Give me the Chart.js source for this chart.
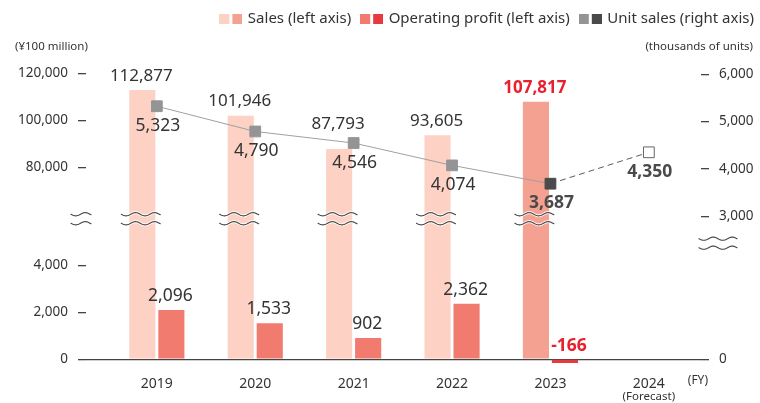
<!DOCTYPE html>
<html>
<head>
<meta charset="utf-8">
<script src="https://cdn.jsdelivr.net/npm/chart.js@4/dist/chart.umd.min.js"></script>
<style>
  html, body { margin: 0; padding: 0; background: #fff; }
  #wrap { width: 760px; height: 403px; }
</style>
</head>
<body>
<div id="wrap"><canvas id="c" width="760" height="403"></canvas></div>
<script>
// ---------- data ----------
const years = [2019, 2020, 2021, 2022, 2023, 2024];
const sales = [112877, 101946, 87793, 93605, 107817, null];
const operatingProfit = [2096, 1533, 902, 2362, -166, null];
const unitSales = [5323, 4790, 4546, 4074, 3687, 4350];
const leftTicks = [0, 2000, 4000, 80000, 100000, 120000];
const rightTicks = [0, 3000, 4000, 5000, 6000];
const forecastYear = 2024;
const highlightYear = 2023;

const FONT = "'Noto Sans', sans-serif";
const TXT = '#333333';
const fmt = v => Number(v).toLocaleString('en-US');

// ---------- broken linear scale ----------
class BrokenLinearScale extends Chart.LinearScale {
  buildTicks() { return (this.options.tickValues || []).map(v => ({ value: v })); }
  _virt(v) {
    const k = this.options.knots;
    let i = 0;
    while (i < k.length - 2 && v > k[i + 1][0]) i++;
    const a = k[i], b = k[i + 1];
    return a[1] + (v - a[0]) * (b[1] - a[1]) / (b[0] - a[0]);
  }
  _unvirt(p) {
    const k = this.options.knots;
    let i = 0;
    while (i < k.length - 2 && p > k[i + 1][1]) i++;
    const a = k[i], b = k[i + 1];
    return a[0] + (p - a[1]) * (b[0] - a[0]) / (b[1] - a[1]);
  }
  getPixelForValue(v) { return this.bottom - this.options.zeroOffset - this._virt(v); }
  getValueForPixel(px) { return this._unvirt(this.bottom - this.options.zeroOffset - px); }
}
BrokenLinearScale.id = 'brokenLinear';
BrokenLinearScale.defaults = {};
Chart.register(BrokenLinearScale);

// ---------- legend swatches ----------
function swatch(c1, c2) {
  const cv = document.createElement('canvas');
  cv.width = 23; cv.height = 10;
  const g = cv.getContext('2d');
  g.fillStyle = c1; g.fillRect(0, 0, 10, 10);
  g.fillStyle = c2; g.fillRect(13, 0, 10, 10);
  return cv;
}
const C = {
  sales: '#fdd2c5', salesHi: '#f5a192',
  op: '#f27b70', opHi: '#e8393e',
  unit: '#949497', unitHi: '#4a4a4a',
  red: '#e8212f'
};
const legendItems = [
  { text: 'Sales (left axis)', pointStyle: swatch(C.sales, C.salesHi) },
  { text: 'Operating profit (left axis)', pointStyle: swatch(C.op, C.opHi) },
  { text: 'Unit sales (right axis)', pointStyle: swatch(C.unit, C.unitHi) }
];

// ---------- helpers ----------
function wave(ctx, x0, x1, y) {
  ctx.beginPath();
  for (let x = x0; x <= x1; x += 0.5) {
    const yy = y + 1.6 * Math.sin((x - x0) / 19 * 2 * Math.PI);
    if (x === x0) ctx.moveTo(x, yy); else ctx.lineTo(x, yy);
  }
  ctx.stroke();
}
function drawBreak(ctx, x0, x1, y) {
  ctx.save();
  ctx.lineCap = 'round';
  ctx.strokeStyle = 'rgba(255,255,255,0.9)';
  ctx.lineWidth = 3;
  wave(ctx, x0, x1, y - 4.5);
  wave(ctx, x0, x1, y + 4.5);
  ctx.strokeStyle = '#444';
  ctx.lineWidth = 1.1;
  wave(ctx, x0, x1, y - 4.5);
  wave(ctx, x0, x1, y + 4.5);
  ctx.restore();
}
function text(ctx, s, x, y, size, color, bold, align) {
  ctx.font = (bold ? 'bold ' : '') + size + 'px ' + FONT;
  ctx.fillStyle = color;
  ctx.textAlign = align || 'center';
  ctx.textBaseline = 'middle';
  ctx.fillText(s, x, y);
}

const extras = {
  id: 'extras',
  afterLayout(chart) {
    const l = chart.legend;
    if (l) { l.left += 10; l.right += 10; }
  },
  afterDatasetsDraw(chart) {
    const ctx = chart.ctx;
    const y = chart.scales.y, y2 = chart.scales.y2;
    const area = chart.chartArea;
    const salesMeta = chart.getDatasetMeta(1);
    const opMeta = chart.getDatasetMeta(2);
    const unitMeta = chart.getDatasetMeta(0);

    // axis breaks
    const bY = y.getPixelForValue(y.options.breakValue);
    salesMeta.data.forEach((el, i) => {
      if (sales[i] == null) return;
      drawBreak(ctx, el.x - el.width / 2 - 8, el.x + el.width / 2 + 5, bY);
    });
    drawBreak(ctx, area.left - 15, area.left + 5, bY);
    const bY2 = y2.getPixelForValue(y2.options.breakValue);
    drawBreak(ctx, area.right - 2, area.right + 36, bY2);

    // value labels (sales label kept clear of the unit-sales marker)
    salesMeta.data.forEach((el, i) => {
      if (sales[i] == null) return;
      const hi = years[i] === highlightYear;
      const marker = unitMeta.data[i];
      const ly = Math.min(el.y - 14, marker ? marker.y - 19 : Infinity);
      text(ctx, fmt(sales[i]), el.x - 1, ly, 17, hi ? C.red : TXT, hi, 'center');
    });
    const zero = y.getPixelForValue(0);
    opMeta.data.forEach((el, i) => {
      const v = operatingProfit[i];
      if (v == null) return;
      if (v < 0) text(ctx, fmt(v), el.x + 4, zero - 13, 17.5, C.red, true, 'center');
      else text(ctx, fmt(v), el.x - 1, el.y - 14, 17.5, TXT, false, 'center');
    });
    unitMeta.data.forEach((el, i) => {
      const bold = years[i] >= highlightYear;
      text(ctx, fmt(unitSales[i]), el.x + 1, el.y + 19.5, 17.5, bold ? '#4a4a4a' : TXT, bold, 'center');
    });
  },
  afterDraw(chart) {
    const ctx = chart.ctx;
    const x = chart.scales.x;
    const area = chart.chartArea;
    text(ctx, '(¥100 million)', 15, 47, 11.5, TXT, false, 'left');
    text(ctx, '(thousands of units)', 753, 47, 11.5, TXT, false, 'right');
    text(ctx, '(Forecast)', x.getPixelForValue(forecastYear), 397, 11.5, TXT, false, 'center');
    text(ctx, '(FY)', area.right + 7, 381, 12, TXT, false, 'right');
  }
};

const unitColors = years.map(yr => yr === forecastYear ? '#ffffff' : (yr === highlightYear ? C.unitHi : C.unit));
const unitBorders = years.map(yr => yr === forecastYear ? '#666666' : (yr === highlightYear ? C.unitHi : C.unit));

new Chart(document.getElementById('c'), {
  type: 'bar',
  data: {
    datasets: [
      {
        type: 'line',
        label: 'Unit sales (right axis)',
        data: unitSales.map((v, i) => ({ x: years[i], y: v })),
        yAxisID: 'y2',
        order: 0,
        borderColor: '#a0a0a0',
        borderWidth: 1,
        pointStyle: 'rect',
        pointRadius: 7.6,
        pointBorderWidth: 1,
        pointBackgroundColor: unitColors,
        pointBorderColor: unitBorders,
        segment: {
          borderDash: c => years[c.p1DataIndex] === forecastYear ? [6, 4] : undefined,
          borderColor: c => years[c.p1DataIndex] === forecastYear ? '#5a5a5a' : undefined
        }
      },
      {
        label: 'Sales (left axis)',
        data: sales.map((v, i) => ({ x: years[i], y: v })),
        yAxisID: 'y',
        order: 1,
        backgroundColor: years.map(yr => yr === highlightYear ? C.salesHi : C.sales),
        categoryPercentage: 0.59,
        barPercentage: 0.9
      },
      {
        label: 'Operating profit (left axis)',
        data: operatingProfit.map((v, i) => ({ x: years[i], y: v })),
        yAxisID: 'y',
        order: 1,
        backgroundColor: years.map(yr => yr === highlightYear ? C.opHi : C.op),
        categoryPercentage: 0.59,
        barPercentage: 0.9
      }
    ]
  },
  options: {
    responsive: false,
    animation: false,
    layout: { padding: { left: 16, right: 5, top: 0, bottom: 7 } },
    plugins: {
      tooltip: { enabled: false },
      legend: {
        position: 'top',
        align: 'end',
        labels: {
          usePointStyle: true,
          pointStyleWidth: 19,
          boxHeight: 10,
          padding: 11,
          color: TXT,
          font: { family: FONT, size: 15 },
          generateLabels: () => legendItems.map((it, i) => ({
            text: it.text, pointStyle: it.pointStyle, fillStyle: '#fff',
            strokeStyle: '#fff', lineWidth: 0, hidden: false, datasetIndex: i, fontColor: TXT
          }))
        }
      }
    },
    scales: {
      x: {
        type: 'linear',
        offset: false,
        min: 2018.28,
        max: 2024.53,
        afterBuildTicks: s => { s.ticks = years.map(v => ({ value: v })); },
        grid: { display: false, drawTicks: false },
        border: { display: false },
        ticks: { callback: v => String(v), padding: 4, color: TXT, font: { family: FONT, size: 14 }, autoSkip: false, maxRotation: 0 }
      },
      y: {
        type: 'brokenLinear',
        position: 'left',
        min: -500,
        max: 125000,
        tickValues: leftTicks,
        knots: [[0, 0], [5957, 140], [58298, 141], [120000, 286]],
        breakValue: 30000,
        zeroOffset: 12,
        afterFit: s => { s.width = 70; },
        border: { display: false },
        grid: {
          color: c => (c.tick && c.tick.value === 0) ? '#444' : 'rgba(0,0,0,0)',
          tickColor: '#444',
          tickLength: 8,
          lineWidth: 1.3
        },
        ticks: { callback: v => fmt(v), padding: 10, color: TXT, font: { family: FONT, size: 13.5 }, autoSkip: false }
      },
      y2: {
        type: 'brokenLinear',
        position: 'right',
        min: -250,
        max: 6300,
        tickValues: rightTicks,
        knots: [[0, 0], [2430, 116], [6000, 285]],
        breakValue: 2430,
        zeroOffset: 12,
        afterFit: s => { s.width = 54; },
        border: { display: false },
        grid: { drawOnChartArea: false, tickColor: '#444', tickLength: 8, lineWidth: 1.3 },
        ticks: { callback: v => fmt(v), padding: 10, color: TXT, font: { family: FONT, size: 13.5 }, autoSkip: false }
      }
    }
  },
  plugins: [extras]
});
</script>
</body>
</html>
